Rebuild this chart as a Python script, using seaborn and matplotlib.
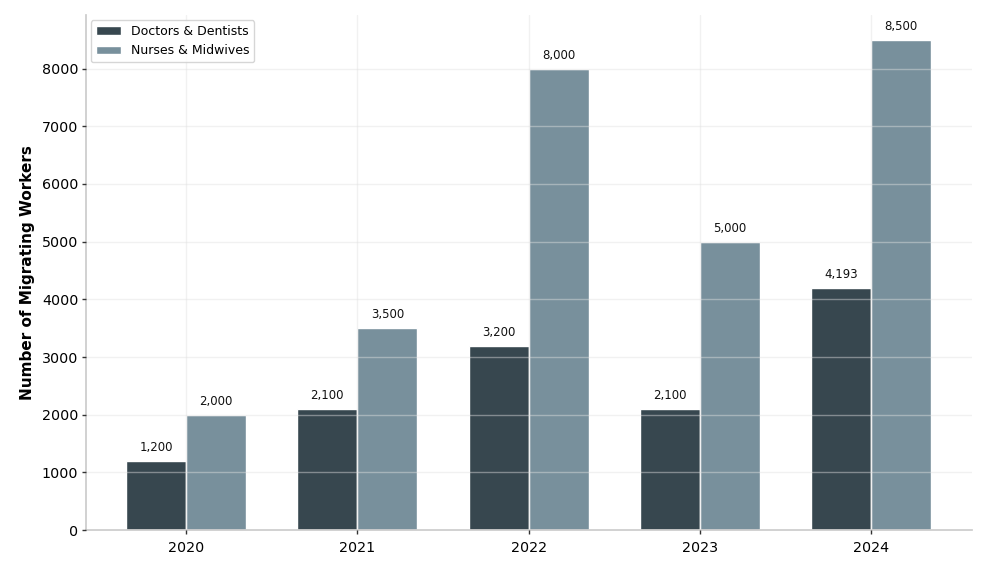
import matplotlib.pyplot as plt
import pandas as pd
import seaborn as sns

YEARS = ["2020", "2021", "2022", "2023", "2024"]
DOCTORS = [1200, 2100, 3200, 2100, 4193]
NURSES = [2000, 3500, 8000, 5000, 8500]
SERIES = ["Doctors & Dentists", "Nurses & Midwives"]
COLORS = ["#37474F", "#78909C"]


def main() -> None:
    sns.set_theme(style="white")
    plt.rcParams["font.family"] = ["DejaVu Sans"]

    df = pd.DataFrame({
        "year": YEARS * 2,
        "workers": DOCTORS + NURSES,
        "group": [SERIES[0]] * len(YEARS) + [SERIES[1]] * len(YEARS),
    })

    fig, ax = plt.subplots(figsize=(9.87, 5.64), dpi=100)
    sns.barplot(
        data=df, x="year", y="workers", hue="group",
        hue_order=SERIES, palette=COLORS, width=0.7,
        edgecolor="white", linewidth=1.0, saturation=1, ax=ax,
    )

    for cont in ax.containers:
        ax.bar_label(cont, labels=[f"{v:,.0f}" for v in cont.datavalues],
                     padding=5, fontsize=8.5, color="#111111")

    ax.set_ylim(0, 8925)
    ax.set_xlim(-0.585, 4.59)
    ax.set_xlabel("")
    ax.set_ylabel("Number of Migrating Workers", fontsize=11, fontweight="bold",
                  color="black", labelpad=5)
    ax.tick_params(axis="both", labelsize=10.3, length=3, width=1,
                   left=True, bottom=True, color="#333333", labelcolor="black")
    ax.tick_params(axis="y", pad=2.5)
    ax.tick_params(axis="x", pad=4.5)

    ax.set_axisbelow(False)
    ax.grid(True, color="#e0e0e0", alpha=0.45, linewidth=1.0)

    for side in ("top", "right"):
        ax.spines[side].set_visible(False)
    for side in ("left", "bottom"):
        ax.spines[side].set_color("#cccccc")

    leg = ax.legend(loc="upper left", fontsize=9, frameon=True,
                    borderaxespad=0.4)
    leg.get_frame().set_edgecolor("#cccccc")
    leg.set_title(None)
    for t in leg.get_texts():
        t.set_color("black")

    fig.subplots_adjust(left=0.087, right=0.985, top=0.973, bottom=0.06)
    fig.savefig("out.png", dpi=100)
    plt.close(fig)


if __name__ == "__main__":
    main()
